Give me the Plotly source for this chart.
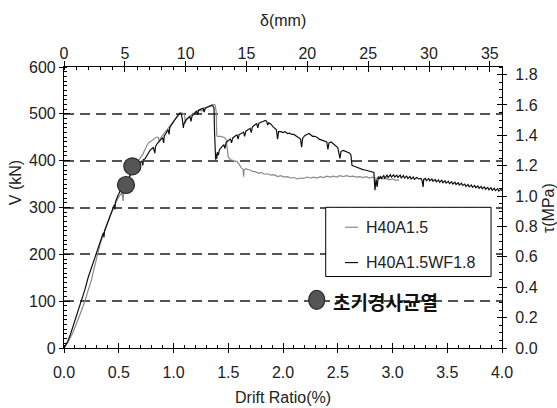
import plotly.graph_objects as go

# ---- measured shear force vs drift ratio ----
gray_name = "H40A1.5"
black_name = "H40A1.5WF1.8"

gray_drift = [0.00, 0.04, 0.08, 0.12, 0.16, 0.19, 0.22, 0.25, 0.27, 0.29, 0.31, 0.33, 0.35, 0.37,
              0.39, 0.41, 0.43, 0.45, 0.47, 0.49, 0.51, 0.53, 0.54, 0.545, 0.56, 0.58, 0.60, 0.62,
              0.64, 0.66, 0.68, 0.70, 0.72, 0.74, 0.76, 0.78, 0.80, 0.82, 0.84, 0.86, 0.87, 0.88,
              0.90, 0.92, 0.94, 0.96, 0.98, 1.00, 1.02, 1.04, 1.06, 1.08, 1.10, 1.11, 1.12, 1.14,
              1.16, 1.18, 1.20, 1.22, 1.24, 1.26, 1.28, 1.30, 1.32, 1.34, 1.36, 1.38, 1.39, 1.395,
              1.40, 1.43, 1.46, 1.48, 1.49, 1.50, 1.52, 1.55, 1.58, 1.60, 1.62, 1.635, 1.64, 1.645,
              1.66, 1.68, 1.70, 1.72, 1.75, 1.78, 1.80, 1.83, 1.86, 1.89, 1.92, 1.95, 1.98, 2.01,
              2.04, 2.07, 2.10, 2.13, 2.16, 2.19, 2.22, 2.25, 2.28, 2.31, 2.34, 2.37, 2.40, 2.43,
              2.46, 2.49, 2.52, 2.55, 2.58, 2.61, 2.64, 2.67, 2.70, 2.73, 2.76, 2.79, 2.82, 2.85,
              2.88, 2.91, 2.94, 2.97, 3.00, 3.03, 3.06]
gray_v = [0, 14, 32, 55, 80, 100, 122, 145, 165, 185, 204, 222, 236, 250,
          262, 276, 288, 298, 310, 318, 326, 332, 314, 330, 342, 352, 364, 376,
          386, 394, 400, 406, 414, 424, 434, 440, 442, 446, 450, 450, 440, 448,
          454, 460, 466, 472, 478, 486, 492, 496, 500, 502, 498, 480, 490, 494,
          496, 500, 504, 507, 508, 506, 512, 514, 516, 518, 520, 519, 505, 455,
          452, 452, 450, 446, 430, 408, 402, 400, 398, 392, 384, 382, 366, 380,
          383, 381, 380, 377, 376, 373, 375, 371, 372, 369, 370, 366, 368, 365,
          366, 363, 364, 361, 363, 362, 365, 363, 365, 363, 366, 364, 367, 365,
          367, 365, 368, 366, 368, 366, 367, 365, 366, 364, 366, 363, 365, 362,
          363, 361, 362, 359, 361, 358, 359]

black_drift = [0.00, 0.03, 0.06, 0.09, 0.12, 0.16, 0.19, 0.22, 0.25, 0.27, 0.29, 0.31, 0.33, 0.35,
               0.36, 0.365, 0.37, 0.39, 0.41, 0.43, 0.45, 0.46, 0.465, 0.47, 0.49, 0.51, 0.53, 0.55,
               0.57, 0.59, 0.61, 0.63, 0.65, 0.67, 0.685, 0.69, 0.71, 0.72, 0.725, 0.74, 0.755, 0.77,
               0.785, 0.80, 0.815, 0.83, 0.835, 0.85, 0.87, 0.885, 0.90, 0.91, 0.915, 0.93, 0.94, 0.95,
               0.96, 0.965, 0.98, 1.00, 1.02, 1.04, 1.06, 1.07, 1.08, 1.09, 1.095, 1.11, 1.13, 1.15,
               1.16, 1.17, 1.19, 1.21, 1.22, 1.23, 1.25, 1.27, 1.28, 1.29, 1.31, 1.33, 1.35, 1.36,
               1.37, 1.375, 1.38, 1.385, 1.39, 1.395, 1.40, 1.41, 1.42, 1.44, 1.46, 1.47, 1.48, 1.50,
               1.52, 1.53, 1.54, 1.56, 1.58, 1.59, 1.60, 1.62, 1.64, 1.65, 1.66, 1.68, 1.70, 1.71,
               1.72, 1.74, 1.76, 1.77, 1.78, 1.80, 1.82, 1.84, 1.85, 1.86, 1.87, 1.89, 1.91, 1.93,
               1.94, 1.95, 1.96, 1.98, 2.00, 2.02, 2.04, 2.06, 2.08, 2.10, 2.12, 2.14, 2.16, 2.17,
               2.18, 2.20, 2.22, 2.24, 2.25, 2.27, 2.29, 2.31, 2.33, 2.35, 2.37, 2.40, 2.41, 2.42,
               2.44, 2.46, 2.48, 2.50, 2.52, 2.53, 2.55, 2.57, 2.59, 2.61, 2.62, 2.63, 2.65, 2.67,
               2.69, 2.71, 2.73, 2.75, 2.77, 2.79, 2.81, 2.83, 2.84, 2.85, 2.86, 2.87, 2.88, 2.89,
               2.90, 2.92, 2.93, 2.95, 2.96, 2.98, 2.99, 3.01, 3.02, 3.04, 3.05, 3.07, 3.08, 3.10,
               3.11, 3.13, 3.14, 3.16, 3.17, 3.19, 3.20, 3.22, 3.24, 3.26, 3.27, 3.28, 3.285, 3.30,
               3.31, 3.33, 3.34, 3.36, 3.37, 3.39, 3.40, 3.42, 3.43, 3.45, 3.46, 3.48, 3.49, 3.51,
               3.52, 3.54, 3.55, 3.57, 3.58, 3.60, 3.61, 3.63, 3.64, 3.66, 3.67, 3.69, 3.70, 3.72,
               3.73, 3.75, 3.76, 3.78, 3.79, 3.81, 3.82, 3.84, 3.85, 3.87, 3.88, 3.90, 3.91, 3.93,
               3.94, 3.96, 3.97, 3.99, 4.00]
black_v = [0, 12, 30, 52, 72, 100, 124, 150, 172, 186, 200, 214, 228, 240,
           246, 236, 250, 262, 276, 290, 300, 306, 296, 312, 324, 334, 340, 346,
           352, 362, 374, 384, 390, 392, 388, 396, 399, 390, 402, 404, 410, 418,
           422, 425, 428, 416, 430, 436, 442, 446, 449, 438, 452, 458, 462, 466,
           456, 470, 476, 484, 490, 496, 502, 500, 490, 470, 478, 486, 490, 494,
           484, 496, 500, 506, 498, 508, 510, 512, 504, 512, 514, 516, 518, 517,
           512, 460, 410, 402, 414, 404, 418, 412, 424, 428, 434, 426, 438, 443,
           446, 438, 448, 452, 455, 446, 456, 458, 461, 452, 463, 466, 469, 460,
           472, 476, 479, 470, 480, 482, 484, 486, 484, 476, 481, 478, 472, 468,
           466, 446, 462, 462, 460, 462, 458, 459, 456, 456, 452, 450, 446, 429,
           448, 454, 456, 458, 456, 452, 452, 450, 446, 444, 442, 440, 424, 438,
           440, 436, 432, 428, 405, 420, 422, 420, 418, 416, 412, 390, 388, 386,
           384, 382, 381, 380, 379, 378, 377, 375, 337, 360, 344, 366, 361, 367,
           362, 368, 363, 369, 364, 370, 365, 370, 365, 369, 364, 369, 363, 368,
           363, 367, 362, 366, 361, 365, 360, 364, 361, 362, 358, 344, 360, 362,
           357, 362, 357, 361, 356, 360, 355, 359, 354, 358, 353, 357, 352, 356,
           351, 355, 350, 354, 349, 353, 348, 352, 347, 350, 345, 349, 344, 348,
           343, 347, 342, 346, 341, 345, 340, 344, 339, 343, 338, 342, 337, 341,
           336, 340, 335, 339, 336]

# first diagonal cracking points
crack_drift = [0.566, 0.624]
crack_v = [348, 388]

# axis ticks
drift_ticks = [0.0, 0.5, 1.0, 1.5, 2.0, 2.5, 3.0, 3.5, 4.0]
delta_ticks = [0, 5, 10, 15, 20, 25, 30, 35]
v_ticks = [0, 100, 200, 300, 400, 500, 600]
tau_ticks = [0.0, 0.2, 0.4, 0.6, 0.8, 1.0, 1.2, 1.4, 1.6, 1.8]

FONT = "Liberation Sans, Arial, sans-serif"
KFONT = "Noto Sans CJK KR, sans-serif"
GRAY = "#8a8a8a"
BLACK = "#111111"

fig = go.Figure()
fig.add_trace(go.Scatter(x=gray_drift, y=gray_v, mode="lines", name=gray_name,
                         line=dict(color=GRAY, width=1.2), showlegend=False))
fig.add_trace(go.Scatter(x=black_drift, y=black_v, mode="lines", name=black_name,
                         line=dict(color=BLACK, width=1.2), showlegend=False))
fig.add_trace(go.Scatter(x=crack_drift, y=crack_v, mode="markers", showlegend=False,
                         marker=dict(size=17, color="#555555",
                                     line=dict(color="#2a2a2a", width=1.2))))

# empty traces so every secondary axis gets drawn
for xa, ya in [("x2", "y"), ("x3", "y"), ("x4", "y"), ("x", "y2"), ("x", "y3"), ("x", "y4")]:
    fig.add_trace(go.Scatter(x=[], y=[], xaxis=xa, yaxis=ya, showlegend=False, hoverinfo="skip"))

tickfont = dict(family=FONT, size=16, color="#222")
minor_common = dict(ticks="inside", ticklen=3, tickwidth=1, tickcolor="black", showgrid=False)

fig.update_layout(
    width=557, height=408,
    margin=dict(l=64, r=55, t=67, b=60),
    paper_bgcolor="white", plot_bgcolor="white",
    showlegend=False,
    xaxis=dict(range=[0, 4], tickvals=drift_ticks, ticktext=[f"{v:.1f}" for v in drift_ticks],
               ticks="outside", ticklen=4, tickwidth=1, tickcolor="black", ticklabelstandoff=6,
               minor=dict(dtick=0.1, tick0=0, **minor_common),
               showline=True, linecolor="black", linewidth=1.2, showgrid=False, zeroline=False,
               tickfont=tickfont, anchor="y"),
    xaxis3=dict(range=[0, 4], overlaying="x", side="bottom", anchor="y", tickvals=drift_ticks,
                ticks="inside", ticklen=5, tickwidth=1, tickcolor="black",
                showticklabels=False, showline=False, showgrid=False, zeroline=False),
    xaxis2=dict(range=[0, 36], overlaying="x", side="top", anchor="y", tickvals=delta_ticks,
                ticks="outside", ticklen=5, tickwidth=1, tickcolor="black", ticklabelstandoff=-4,
                minor=dict(dtick=1, tick0=0, **minor_common),
                showline=True, linecolor="black", linewidth=1.2, showgrid=False, zeroline=False,
                tickfont=tickfont),
    xaxis4=dict(range=[0, 36], overlaying="x", side="top", anchor="y", tickvals=delta_ticks,
                ticks="inside", ticklen=5, tickwidth=1, tickcolor="black",
                showticklabels=False, showline=False, showgrid=False, zeroline=False),
    yaxis=dict(range=[0, 600], tickvals=v_ticks,
               ticks="outside", ticklen=4, tickwidth=1, tickcolor="black",
               minor=dict(dtick=10, tick0=0, **minor_common),
               showline=True, linecolor="black", linewidth=1.2, zeroline=False,
               showgrid=True, gridcolor="#555555", gridwidth=1.5, griddash="10px,6px",
               tickfont=tickfont, anchor="x"),
    yaxis3=dict(range=[0, 600], overlaying="y", side="left", anchor="x", tickvals=v_ticks,
                ticks="inside", ticklen=6, tickwidth=1, tickcolor="black",
                showticklabels=False, showline=False, showgrid=False, zeroline=False),
    yaxis2=dict(range=[0, 1.85], overlaying="y", side="right", anchor="x", tickvals=tau_ticks,
                ticktext=[f"{v:.1f}" for v in tau_ticks],
                ticks="outside", ticklen=4, tickwidth=1, tickcolor="black", ticklabelstandoff=5,
                minor=dict(dtick=0.05, tick0=0, **minor_common),
                showline=True, linecolor="black", linewidth=1.2, showgrid=False, zeroline=False,
                tickfont=tickfont),
    yaxis4=dict(range=[0, 1.85], overlaying="y", side="right", anchor="x", tickvals=tau_ticks,
                ticks="inside", ticklen=5, tickwidth=1, tickcolor="black",
                showticklabels=False, showline=False, showgrid=False, zeroline=False),
)

# axis titles
title_font = dict(family=FONT, size=16, color="#222")
fig.add_annotation(text="δ(mm)", xref="paper", yref="paper", x=0.5, y=1.166,
                   showarrow=False, font=title_font, xanchor="center", yanchor="middle")
fig.add_annotation(text="Drift Ratio(%)", xref="paper", yref="paper", x=0.5, y=-0.1765,
                   showarrow=False, font=title_font, xanchor="center", yanchor="middle")
fig.add_annotation(text="V (kN)", xref="paper", yref="paper", x=-0.112, y=0.59, textangle=-90,
                   showarrow=False, font=title_font, xanchor="center", yanchor="middle")
fig.add_annotation(text="τ(MPa)", xref="paper", yref="paper", x=1.105, y=0.498, textangle=-90,
                   showarrow=False, font=title_font, xanchor="center", yanchor="middle")

# legend box
fig.add_shape(type="rect", xref="paper", yref="paper", x0=0.5975, x1=0.975, y0=0.2543, y1=0.5007,
              line=dict(color="black", width=1), fillcolor="white", layer="above")
for (yy, col, label) in [(0.4297, GRAY, gray_name), (0.304, BLACK, black_name)]:
    fig.add_shape(type="line", xref="paper", yref="paper", x0=0.6416, x1=0.6712, y0=yy, y1=yy,
                  line=dict(color=col, width=1.2), layer="above")
    fig.add_annotation(text=label, xref="paper", yref="paper", x=0.686, y=yy, showarrow=False,
                       xanchor="left", yanchor="middle", font=dict(family=FONT, size=16, color="#222"))

# cracking marker key
fig.add_shape(type="circle", xref="paper", yref="paper",
              x0=0.577 - 0.0183, x1=0.577 + 0.0183, y0=0.1715 - 0.034, y1=0.1715 + 0.034,
              fillcolor="#555555", line=dict(color="#2a2a2a", width=1.2), layer="above")
fig.add_annotation(text="<b>초기경사균열</b>", xref="paper", yref="paper", x=0.61, y=0.1655,
                   showarrow=False, xanchor="left", yanchor="middle",
                   font=dict(family=KFONT, size=19, color="#111"))

fig.write_html("out.html")
